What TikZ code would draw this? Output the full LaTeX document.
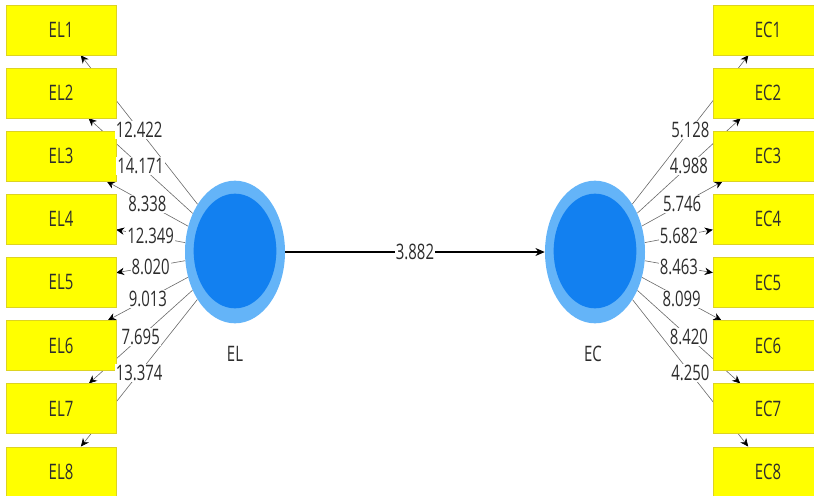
\documentclass[tikz,border=0pt]{standalone}
\usepackage{fontspec}
\newfontfamily\plsfont{Open Sans}[FakeStretch=0.7]
\usetikzlibrary{arrows.meta,shapes.geometric}
\pgfdeclarelayer{bg}
\pgfdeclarelayer{fg}
\pgfsetlayers{bg,main,fg}
\definecolor{indyellow}{RGB}{255,255,0}
\definecolor{lvouter}{RGB}{100,180,248}
\definecolor{lvinner}{RGB}{18,128,240}
\definecolor{loadgray}{RGB}{105,105,105}
\definecolor{txtgray}{RGB}{45,45,45}
\begin{document}
\begin{tikzpicture}[x=0.75pt,y=-0.75pt,
  indbox/.style={draw=yellow!85!black, line width=0.3pt, fill=indyellow,
    minimum width=82.5pt, minimum height=37.5pt, inner sep=0pt,
    font=\plsfont\fontsize{16}{16}\selectfont, text=txtgray},
  lvout/.style={ellipse, fill=lvouter, minimum width=75pt, minimum height=107pt, inner sep=0pt},
  lvin/.style={ellipse, fill=lvinner, minimum width=62pt, minimum height=86pt, inner sep=0pt},
  lvname/.style={font=\plsfont\fontsize{16}{16}\selectfont, text=txtgray},
  loading/.style={draw=loadgray, line width=0.45pt,
    -{Stealth[length=6pt,width=5.5pt,color=black]}},
  path/.style={draw=black, line width=0.8pt,
    -{Stealth[length=7pt,width=6pt]}},
  coef/.style={fill=white, inner sep=0.8pt, pos=0.5,
    font=\plsfont\fontsize{16}{16}\selectfont, text=txtgray}]
\useasboundingbox (0,0) rectangle (814,496);

% latent variables
\node[lvout] (EL) at (235,252) {};
\node[lvin]  (ELin) at (235,251) {};
\node[lvout] (EC) at (595,252) {};
\node[lvin]  (ECin) at (595,251) {};
\node[lvname] (ELname) at (235,354) {EL};
\node[lvname] (ECname) at (593,354) {EC};

% indicators
\foreach \i in {1,...,8}{
  \node[indbox] (EL\i) at (61,{30+63.1*(\i-1)}) {EL\i};
  \node[indbox] (EC\i) at (768,{30+63.1*(\i-1)}) {EC\i};
}

% outer model and structural path
\begin{pgfonlayer}{bg}
\foreach \i in {1,...,8}{
  \draw[loading] (EL) -- (EL\i);
  \draw[loading] (EC) -- (EC\i);
}
\draw[path] (EL) -- (EC);
\end{pgfonlayer}

% path coefficients
\begin{pgfonlayer}{fg}
\foreach \i/\v in {1/12.422,2/14.171,3/8.338,4/12.349,5/8.020,6/9.013,7/7.695,8/13.374}{
  \path (EL) -- (EL\i) node[coef] (ELc\i) {\v};
}
\foreach \i/\v in {1/5.128,2/4.988,3/5.746,4/5.682,5/8.463,6/8.099,7/8.420,8/4.250}{
  \path (EC) -- (EC\i) node[coef] (ECc\i) {\v};
}
\path (EL) -- (EC) node[coef] (pathc) {3.882};
\end{pgfonlayer}
\end{tikzpicture}
\end{document}
